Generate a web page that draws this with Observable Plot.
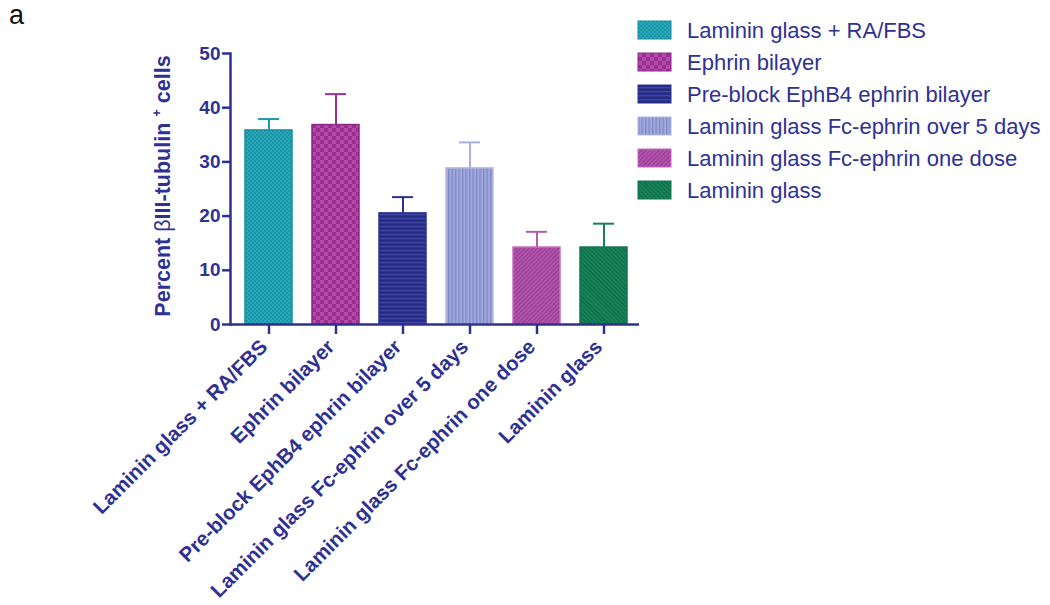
<!DOCTYPE html>
<html>
<head>
<meta charset="utf-8">
<script src="https://cdn.jsdelivr.net/npm/d3@7"></script>
<script src="https://cdn.jsdelivr.net/npm/@observablehq/plot@0.6"></script>
<style>
  html, body { margin: 0; padding: 0; background: #fff; }
  #chart { position: relative; width: 1050px; height: 605px; }
  svg { font-family: "Liberation Sans", Arial, sans-serif; }
</style>
</head>
<body>
<div id="chart"></div>
<script>
// Conditions tested
const categories = [
  "Laminin glass + RA/FBS",
  "Ephrin bilayer",
  "Pre-block EphB4 ephrin bilayer",
  "Laminin glass Fc-ephrin over 5 days",
  "Laminin glass Fc-ephrin one dose",
  "Laminin glass"
];
// Mean percent of βIII-tubulin+ cells and the upper error (SEM)
const means = [35.8, 36.8, 20.5, 28.8, 14.2, 14.2];
const errors = [2.1, 5.7, 3.0, 4.8, 2.9, 4.4];
const yTicks = [0, 10, 20, 30, 40, 50];

// Styling per condition: pattern base, pattern accent, outline, error bar colour
const baseColors   = ["#1a96a8", "#9b2f91", "#262c86", "#a1a9dc", "#b458ae", "#178459"];
const accentColors = ["#2aa8ba", "#b34ca9", "#3f49a4", "#7f88c9", "#993b95", "#0e6c48"];
const outlineColors = ["#168c9d", "#8d2786", "#2b318c", "#b4bae2", "#c36cbd", "#12744f"];
const errorColors  = ["#1b98aa", "#9a3092", "#2b318c", "#a9b0de", "#b55aaf", "#168058"];

const navy = "#2e3192";
const rows = categories.map((cat, i) => ({cat, mean: means[i], err: errors[i], i}));

const marks = [];
rows.forEach(d => {
  marks.push(Plot.barY([d], {
    x: "cat", y: "mean",
    fill: `url(#pat${d.i})`,
    stroke: outlineColors[d.i], strokeWidth: 1.5
  }));
  marks.push(Plot.ruleX([d], {
    x: "cat", y1: "mean", y2: r => r.mean + r.err,
    stroke: errorColors[d.i], strokeWidth: 2
  }));
  marks.push(Plot.tickY([d], {
    x: "cat", y: r => r.mean + r.err,
    stroke: errorColors[d.i], strokeWidth: 2, inset: 13
  }));
});

const chart = Plot.plot({
  width: 1050,
  height: 605,
  marginLeft: 230,
  marginRight: 411,
  marginTop: 53,
  marginBottom: 281,
  style: {color: navy, background: "#fff", fontFamily: "Liberation Sans, Arial, sans-serif"},
  x: {domain: categories, range: [242.7, 630], paddingInner: 0.293, paddingOuter: 0},
  y: {domain: [0, 50]},
  marks: [
    ...marks,
    Plot.frame({anchor: "left", stroke: navy, strokeWidth: 2.5}),
    Plot.ruleY([0], {stroke: navy, strokeWidth: 2.5}),
    Plot.axisY({
      ticks: yTicks, tickSize: 8, tickPadding: 2, label: null,
      stroke: navy, strokeWidth: 2.5, fill: navy,
      fontSize: 19, fontWeight: "bold"
    }),
    // x tick marks
    Plot.axisX({
      tickSize: 10, tickFormat: () => "", label: null,
      stroke: navy, strokeWidth: 2.5
    }),
    // rotated x tick labels
    Plot.axisX({
      tickSize: 0, tickPadding: 14, tickRotate: -45, label: null,
      fill: navy, fontSize: 20.5, fontWeight: "bold", dx: -5, dy: 5
    })
  ]
});

document.getElementById("chart").appendChild(chart);
const svg = d3.select(chart);

// Fill patterns for the bars and legend swatches
const defs = svg.insert("defs", ":first-child");
function pattern(id, w, h, base, transform) {
  const p = defs.append("pattern").attr("id", id)
    .attr("patternUnits", "userSpaceOnUse").attr("width", w).attr("height", h);
  if (transform) p.attr("patternTransform", transform);
  p.append("rect").attr("width", w).attr("height", h).attr("fill", base);
  return p;
}
{
  // fine checker
  const p0 = pattern("pat0", 4, 4, baseColors[0]);
  p0.append("rect").attr("x", 0).attr("y", 0).attr("width", 2).attr("height", 2).attr("fill", accentColors[0]);
  p0.append("rect").attr("x", 2).attr("y", 2).attr("width", 2).attr("height", 2).attr("fill", accentColors[0]);
  // coarse checker
  const p1 = pattern("pat1", 8, 8, baseColors[1]);
  p1.append("rect").attr("x", 0).attr("y", 0).attr("width", 4).attr("height", 4).attr("fill", accentColors[1]);
  p1.append("rect").attr("x", 4).attr("y", 4).attr("width", 4).attr("height", 4).attr("fill", accentColors[1]);
  // horizontal lines
  const p2 = pattern("pat2", 4, 4, baseColors[2]);
  p2.append("rect").attr("x", 0).attr("y", 2).attr("width", 4).attr("height", 1.3).attr("fill", accentColors[2]);
  // vertical lines
  const p3 = pattern("pat3", 3.5, 4, baseColors[3]);
  p3.append("rect").attr("x", 0).attr("y", 0).attr("width", 1.3).attr("height", 4).attr("fill", accentColors[3]);
  // diagonal /
  const p4 = pattern("pat4", 3, 3, baseColors[4], "rotate(45)");
  p4.append("rect").attr("x", 0).attr("y", 0).attr("width", 1.3).attr("height", 3).attr("fill", accentColors[4]);
  // diagonal \
  const p5 = pattern("pat5", 3, 3, baseColors[5], "rotate(-45)");
  p5.append("rect").attr("x", 0).attr("y", 0).attr("width", 1.3).attr("height", 3).attr("fill", accentColors[5]);
}

// y-axis title with superscript
const title = svg.append("text")
  .attr("transform", "translate(170,186) rotate(-90)")
  .attr("text-anchor", "middle")
  .attr("fill", navy)
  .attr("font-size", 21.5)
  .attr("font-weight", "bold");
title.append("tspan").text("Percent ");
title.append("tspan").attr("font-weight", "normal").text("β");
title.append("tspan").text("III-tubulin ");
title.append("tspan").attr("font-size", 13).attr("dy", -9).text("+");
title.append("tspan").attr("dy", 9).text(" cells");

// Panel letter
svg.append("text").attr("x", 9).attr("y", 24).attr("text-anchor", "start")
  .attr("font-size", 27).attr("fill", "#111").text("a");

// Legend
const legend = svg.append("g").attr("transform", "translate(638,21)");
categories.forEach((cat, i) => {
  const g = legend.append("g").attr("transform", `translate(0,${i * 32})`);
  g.append("rect").attr("width", 33).attr("height", 18)
    .attr("fill", `url(#pat${i})`).attr("stroke", outlineColors[i]).attr("stroke-width", 1);
  g.append("text").attr("x", 49).attr("y", 9).attr("dy", "0.35em")
    .attr("text-anchor", "start")
    .attr("font-size", 22).attr("fill", navy).text(cat);
});
</script>
</body>
</html>
